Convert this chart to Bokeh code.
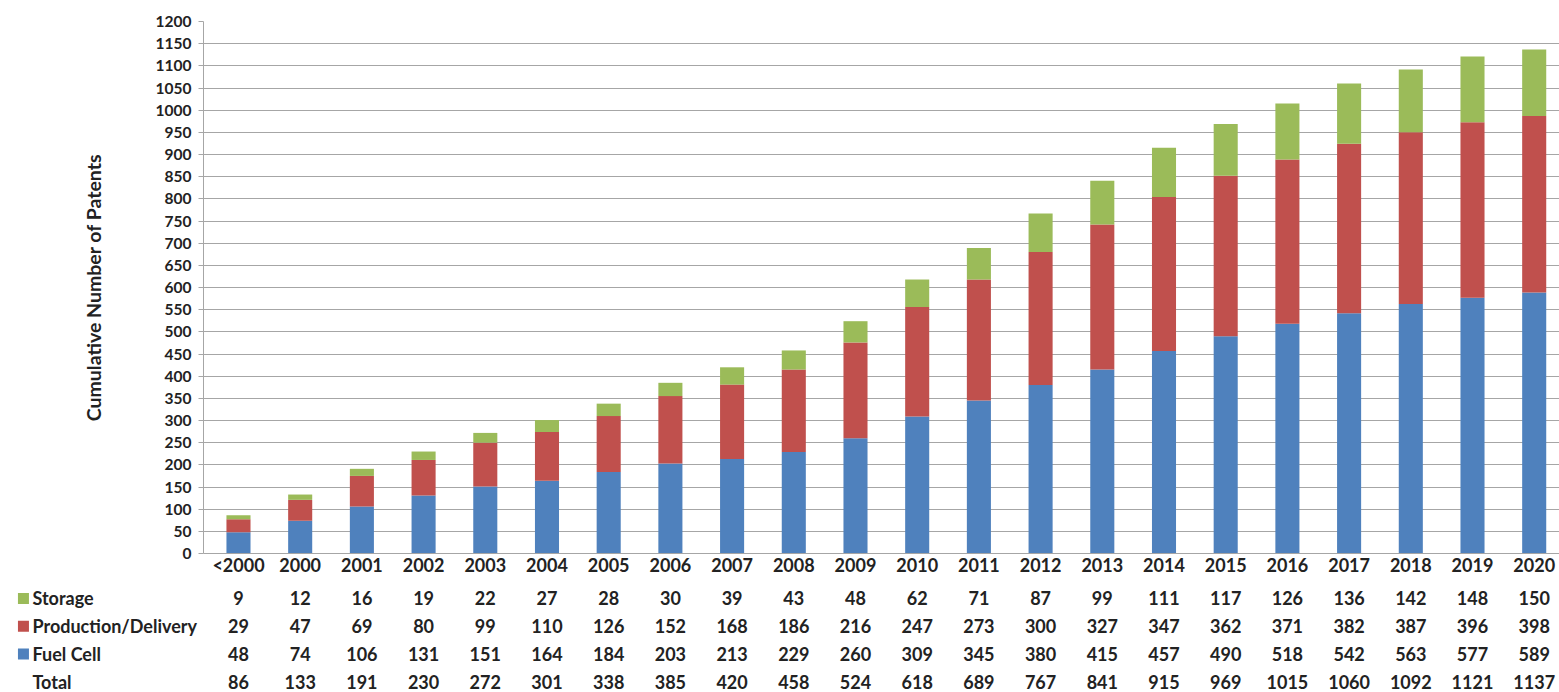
from bokeh.plotting import figure
from bokeh.layouts import column
from bokeh.models import Range1d, FixedTicker, ColumnDataSource
from bokeh.core.properties import value
from bokeh.embed import file_html
from bokeh.resources import INLINE

categories = ["<2000", "2000", "2001", "2002", "2003", "2004", "2005", "2006", "2007", "2008",
              "2009", "2010", "2011", "2012", "2013", "2014", "2015", "2016", "2017", "2018",
              "2019", "2020"]
storage = [9, 12, 16, 19, 22, 27, 28, 30, 39, 43, 48, 62, 71, 87, 99, 111, 117, 126, 136, 142, 148, 150]
production = [29, 47, 69, 80, 99, 110, 126, 152, 168, 186, 216, 247, 273, 300, 327, 347, 362, 371, 382, 387, 396, 398]
fuel_cell = [48, 74, 106, 131, 151, 164, 184, 203, 213, 229, 260, 309, 345, 380, 415, 457, 490, 518, 542, 563, 577, 589]
total = [86, 133, 191, 230, 272, 301, 338, 385, 420, 458, 524, 618, 689, 767, 841, 915, 969, 1015, 1060, 1092, 1121, 1137]
y_ticks = list(range(0, 1201, 50))
row_names = ["Storage", "Production/Delivery", "Fuel Cell", "Total"]

colors = {"Fuel Cell": "#4F81BD", "Production/Delivery": "#C0504D", "Storage": "#9BBB59"}

FONT = "Lato"
TXT = "#222222"
GRID = "#a6a6a6"

xs = list(range(len(categories)))
src = ColumnDataSource(dict(x=xs, fc=fuel_cell, pd=production, st=storage))

# ---------------- chart ----------------
p = figure(width=1559, height=580, output_backend="svg", toolbar_location=None,
           x_range=Range1d(-0.567, 21.41), y_range=Range1d(0, 1200),
           min_border_left=203, min_border_right=0, min_border_top=21, min_border_bottom=27)
p.outline_line_color = None
p.background_fill_color = "white"
p.border_fill_color = "white"

p.vbar_stack(["fc", "pd", "st"], x="x", width=0.39, source=src,
             color=[colors["Fuel Cell"], colors["Production/Delivery"], colors["Storage"]],
             line_color=None)

ay = p.yaxis[0]
ay.ticker = FixedTicker(ticks=y_ticks)
ay.axis_line_color = GRID
ay.major_tick_line_color = GRID
ay.major_tick_out = 5
ay.major_tick_in = 0
ay.minor_tick_line_color = None
ay.major_label_text_font = FONT
ay.major_label_text_font_style = "bold"
ay.major_label_text_font_size = "15.5px"
ay.major_label_text_color = TXT
ay.major_label_standoff = 7
ay.axis_label = "Cumulative Number of Patents"
ay.axis_label_text_font = FONT
ay.axis_label_text_font_style = "bold"
ay.axis_label_text_font_size = "19.5px"
ay.axis_label_text_color = TXT
ay.axis_label_standoff = 48

ax = p.xaxis[0]
ax.ticker = FixedTicker(ticks=xs)
ax.major_label_overrides = {i: c for i, c in enumerate(categories)}
ax.axis_line_color = GRID
ax.major_tick_line_color = None
ax.minor_tick_line_color = None
ax.major_label_text_font = FONT
ax.major_label_text_font_style = "bold"
ax.major_label_text_font_size = "18px"
ax.major_label_text_color = TXT
ax.major_label_standoff = -6

p.xgrid.grid_line_color = None
p.ygrid.grid_line_color = GRID
p.ygrid.grid_line_width = 1

# ---------------- data table ----------------
rows_vals = [storage, production, fuel_cell, total]
tx, ty, tt = [], [], []
for r, vals in enumerate(rows_vals):
    for i, v in enumerate(vals):
        tx.append(i)
        ty.append(r)
        tt.append(str(v))
tsrc = ColumnDataSource(dict(x=tx, y=ty, t=tt))

t = figure(width=1559, height=112, output_backend="svg", toolbar_location=None,
           x_range=Range1d(-3.857, 21.41), y_range=Range1d(3.381, -0.647),
           x_axis_type=None, y_axis_type=None,
           min_border_left=0, min_border_right=0, min_border_top=0, min_border_bottom=0)
t.outline_line_color = None
t.xgrid.grid_line_color = None
t.ygrid.grid_line_color = None
t.background_fill_color = "white"
t.border_fill_color = "white"

t.text(x="x", y="y", text="t", source=tsrc, text_font=value(FONT), text_font_style="bold",
       text_font_size="18px", text_color=TXT, text_align="center", text_baseline="middle")

hsrc = ColumnDataSource(dict(x=[-3.339] * 4, y=list(range(4)), t=row_names))
t.text(x="x", y="y", text="t", source=hsrc, text_font=value(FONT), text_font_style="bold",
       text_font_size="18px", text_color=TXT, text_align="left", text_baseline="middle")

msrc = ColumnDataSource(dict(x=[-3.485] * 3, y=[0, 1, 2],
                             c=[colors["Storage"], colors["Production/Delivery"], colors["Fuel Cell"]]))
t.scatter(x="x", y="y", marker="square", size=11, fill_color="c", line_color=None, source=msrc)

# keep each figure's own frame (do not align the table frame to the chart frame)
for fig in (p, t):
    if "frame_align" in fig.properties():
        fig.frame_align = False

layout = column(p, t, spacing=0)
open("out.html", "w").write(file_html(layout, INLINE))
